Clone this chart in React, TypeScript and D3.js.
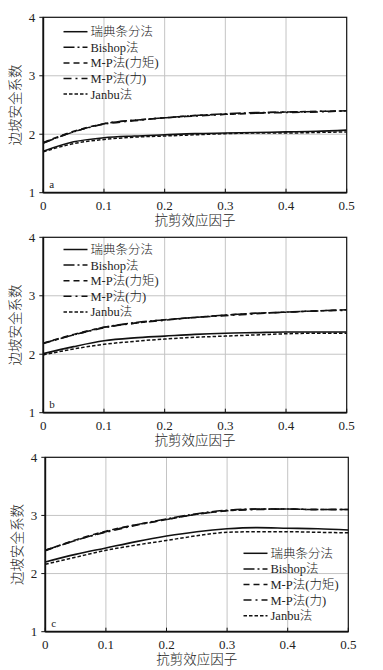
import React from "react";
import * as d3 from "d3";

const xs = [0, 0.05, 0.1, 0.15, 0.2, 0.25, 0.3, 0.35, 0.4, 0.45, 0.5];
const seriesNames = ["瑞典条分法", "Bishop法", "M-P法(力矩)", "M-P法(力)", "Janbu法"];
const xTicks = [0, 0.1, 0.2, 0.3, 0.4, 0.5];
const yTicks = [1, 2, 3, 4];
const xTitle = "抗剪效应因子";
const yTitle = "边坡安全系数";

// Panel a
const aSwedish = [1.71, 1.87, 1.94, 1.97, 1.99, 2.01, 2.02, 2.03, 2.04, 2.05, 2.07];
const aBishop = [1.85, 2.04, 2.18, 2.24, 2.28, 2.32, 2.35, 2.37, 2.38, 2.39, 2.4];
const aMPm = [1.86, 2.05, 2.18, 2.24, 2.28, 2.32, 2.34, 2.36, 2.38, 2.39, 2.4];
const aMPf = [1.85, 2.04, 2.17, 2.23, 2.28, 2.31, 2.34, 2.36, 2.37, 2.38, 2.4];
const aJanbu = [1.7, 1.84, 1.91, 1.95, 1.97, 1.99, 2.01, 2.02, 2.02, 2.03, 2.04];
// Panel b
const bSwedish = [2.01, 2.13, 2.23, 2.28, 2.31, 2.34, 2.36, 2.37, 2.38, 2.38, 2.38];
const bBishop = [2.19, 2.33, 2.46, 2.54, 2.59, 2.63, 2.67, 2.7, 2.72, 2.74, 2.76];
const bMPm = [2.19, 2.34, 2.46, 2.53, 2.59, 2.63, 2.67, 2.7, 2.72, 2.74, 2.76];
const bMPf = [2.18, 2.33, 2.45, 2.53, 2.58, 2.63, 2.66, 2.69, 2.72, 2.74, 2.75];
const bJanbu = [1.99, 2.09, 2.17, 2.22, 2.26, 2.29, 2.31, 2.33, 2.35, 2.36, 2.36];
// Panel c
const cSwedish = [2.2, 2.33, 2.44, 2.55, 2.645, 2.72, 2.77, 2.79, 2.78, 2.77, 2.75];
const cBishop = [2.4, 2.57, 2.72, 2.84, 2.94, 3.03, 3.09, 3.11, 3.11, 3.1, 3.1];
const cMPm = [2.4, 2.58, 2.73, 2.84, 2.93, 3.02, 3.08, 3.11, 3.11, 3.1, 3.1];
const cMPf = [2.39, 2.57, 2.71, 2.83, 2.93, 3.02, 3.08, 3.1, 3.11, 3.1, 3.1];
const cJanbu = [2.16, 2.28, 2.4, 2.49, 2.57, 2.65, 2.71, 2.72, 2.72, 2.71, 2.7];

const dashes = ["", "11,3,2,3", "6,4", "8,4,2,4", "3.5,2"];

const serif = "'Liberation Serif', 'Noto Sans CJK SC', serif";

type PanelProps = {
  label: string;
  left: number;
  right: number;
  top: number;
  bottom: number;
  series: number[][];
  legendX: number;
  legendY: number;
};

function Panel({ label, left, right, top, bottom, series, legendX, legendY }: PanelProps) {
  const x = d3.scaleLinear().domain([0, 0.5]).range([left, right]);
  const y = d3.scaleLinear().domain([1, 4]).range([bottom, top]);
  const line = d3
    .line<number>()
    .x((_, i) => x(xs[i]))
    .y((d) => y(d))
    .curve(d3.curveMonotoneX);
  const order = [0, 4, 2, 3, 1];
  return (
    <g>
      {xTicks.slice(1, -1).map((t) => (
        <line key={"gx" + t} x1={x(t)} x2={x(t)} y1={top} y2={bottom} stroke="#c4c4c4" strokeWidth={1} />
      ))}
      {yTicks.slice(1, -1).map((t) => (
        <line key={"gy" + t} x1={left} x2={right} y1={y(t)} y2={y(t)} stroke="#c4c4c4" strokeWidth={1} />
      ))}
      {order.map((k) => (
        <path
          key={"s" + k}
          d={line(series[k]) || ""}
          fill="none"
          stroke="#111"
          strokeWidth={k === 0 ? 1.6 : 1.5}
          strokeDasharray={dashes[k]}
        />
      ))}
      <rect x={left} y={top} width={right - left} height={bottom - top} fill="none" stroke="#111" strokeWidth={1.2} />
      <line x1={left} x2={right} y1={bottom} y2={bottom} stroke="#111" strokeWidth={1.8} />
      <line x1={left} x2={left} y1={top} y2={bottom} stroke="#111" strokeWidth={1.8} />
      {yTicks.map((t) => (
        <g key={"yt" + t}>
          <line x1={left - 4} x2={left} y1={y(t)} y2={y(t)} stroke="#111" strokeWidth={1} />
          <text x={left - 8} y={y(t) + 4.5} textAnchor="end" fontSize={13} fontFamily={serif} fill="#222">
            {t}
          </text>
        </g>
      ))}
      {xTicks.map((t) => (
        <g key={"xt" + t}>
          <line x1={x(t)} x2={x(t)} y1={bottom} y2={bottom - 4} stroke="#111" strokeWidth={1} />
          <text x={x(t)} y={bottom + 17} textAnchor="middle" fontSize={13} fontFamily={serif} fill="#222">
            {t}
          </text>
        </g>
      ))}
      <text x={(left + right) / 2} y={bottom + 32} textAnchor="middle" fontSize={13.5} fontFamily={serif} fontWeight={300} fill="#222">
        {xTitle}
      </text>
      <text
        transform={`translate(${left - 23},${(top + bottom) / 2}) rotate(-90)`}
        textAnchor="middle"
        fontSize={13.5}
        fontFamily={serif}
        fontWeight={300}
        fill="#222"
      >
        {yTitle}
      </text>
      <text x={left + 6} y={bottom - 5} fontSize={11} fontFamily={serif} fill="#222">
        {label}
      </text>
      {seriesNames.map((n, i) => (
        <g key={"lg" + i}>
          <line
            x1={legendX}
            x2={legendX + 24}
            y1={legendY + i * 15.6}
            y2={legendY + i * 15.6}
            stroke="#111"
            strokeWidth={1.5}
            strokeDasharray={dashes[i]}
          />
          <text x={legendX + 27} y={legendY + i * 15.6 + 4.5} fontSize={12.5} fontFamily={serif} fontWeight={300} fill="#222">
            {n}
          </text>
        </g>
      ))}
    </g>
  );
}

export default function App() {
  return (
    <svg
      width={383}
      height={670}
      style={{ position: "absolute", left: 0, top: 0, background: "#fff" }}
    >
      <Panel
        label="a"
        left={43.3}
        right={346.7}
        top={17.3}
        bottom={192.7}
        series={[aSwedish, aBishop, aMPm, aMPf, aJanbu]}
        legendX={63.5}
        legendY={31.7}
      />
      <Panel
        label="b"
        left={43.3}
        right={346.7}
        top={237.3}
        bottom={412.7}
        series={[bSwedish, bBishop, bMPm, bMPf, bJanbu]}
        legendX={63.5}
        legendY={249.5}
      />
      <Panel
        label="c"
        left={45.3}
        right={348.3}
        top={457.3}
        bottom={631.7}
        series={[cSwedish, cBishop, cMPm, cMPf, cJanbu]}
        legendX={243.5}
        legendY={553.3}
      />
    </svg>
  );
}
